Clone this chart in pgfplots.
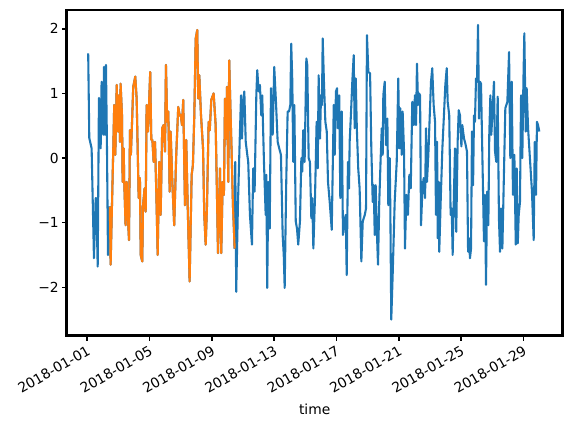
\documentclass[border=0pt]{standalone}
\usepackage{fontspec}
\setmainfont{DejaVu Sans}
\usepackage{pgfplots}
\pgfplotsset{compat=1.18}
\usepackage{pgfplotstable}
\usetikzlibrary{calc}
\definecolor{mplblue}{HTML}{1F77B4}
\definecolor{mplorange}{HTML}{FF7F0E}

% blue series, before the orange stretch
\pgfplotstableread{
d y
0.06 1.62
0.13 0.31
0.28 0.15
0.43 -1.55
0.54 -0.62
0.58 -0.62
0.67 -1.68
0.75 0.93
0.86 0.15
0.92 1.18
1.03 0.36
1.07 1.41
1.14 0.36
1.20 1.44
1.26 0.30
1.33 -1.50
1.45 -0.75
}\blueA

% blue series, after the orange stretch
\pgfplotstableread{
d y
9.46 -1.40
9.50 -0.06
9.56 -2.07
9.67 -0.73
9.78 0.25
9.87 0.97
9.93 0.30
10.01 0.87
10.08 1.03
10.17 0.25
10.27 0.05
10.33 -0.06
10.44 -0.88
10.57 -1.34
10.65 -0.16
10.74 -0.52
10.85 0.97
10.91 1.36
11.00 1.03
11.08 1.13
11.17 0.66
11.23 0.97
11.34 -0.06
11.45 -0.88
11.49 -0.26
11.55 -2.01
11.62 -0.37
11.71 -1.09
11.79 1.08
11.90 0.36
12.00 1.41
12.11 0.87
12.22 0.25
12.32 0.15
12.43 0.05
12.54 -1.19
12.61 -1.50
12.67 -2.01
12.77 -0.37
12.86 0.72
12.95 0.72
13.03 0.82
13.09 1.77
13.16 1.18
13.22 -0.06
13.29 0.82
13.38 -0.98
13.46 -1.09
13.54 -1.34
13.65 -0.98
13.74 0.00
13.80 -0.21
13.86 0.43
13.95 -0.06
14.06 1.54
14.12 1.44
14.21 0.00
14.29 -0.06
14.38 -0.93
14.44 -0.62
14.51 -1.40
14.62 -0.57
14.72 0.56
14.79 -0.16
14.85 1.28
14.94 0.30
15.00 0.97
15.06 0.82
15.11 1.85
15.19 1.18
15.28 0.56
15.37 0.41
15.45 -0.37
15.56 -0.68
15.69 -1.11
15.82 0.82
15.88 0.05
15.96 1.03
16.03 1.08
16.09 0.46
16.17 0.97
16.24 -0.62
16.33 0.72
16.41 -1.19
16.50 -0.98
16.59 -0.88
16.65 -1.81
16.73 -0.06
16.80 -0.47
16.84 0.25
16.93 0.72
17.01 1.18
17.10 1.59
17.16 0.46
17.23 1.23
17.30 0.46
17.39 -0.16
17.48 -0.47
17.59 -1.60
17.68 -0.98
17.81 -0.88
17.89 -0.78
17.95 1.90
18.04 1.33
18.15 1.31
18.23 0.15
18.32 -0.68
18.38 -0.42
18.45 -1.19
18.51 -0.42
18.58 -1.09
18.66 -1.65
18.74 -0.68
18.83 0.00
18.90 0.46
18.96 0.05
19.00 0.97
19.09 1.18
19.17 0.20
19.26 0.61
19.32 -0.73
19.41 0.00
19.45 -0.78
19.51 -2.50
19.60 -1.81
19.73 -0.68
19.86 -0.06
19.96 1.23
20.03 0.15
20.09 0.77
20.18 0.05
20.24 0.72
20.33 0.10
20.39 -1.40
20.48 -0.57
20.58 -0.88
20.67 -0.26
20.76 -0.47
20.86 0.87
20.95 0.51
21.03 0.97
21.10 0.51
21.16 1.46
21.23 0.82
21.29 1.00
21.36 0.97
21.42 -1.04
21.51 -0.47
21.59 -0.31
21.68 -0.62
21.74 0.46
21.80 -0.37
21.89 0.05
21.98 0.66
22.06 1.18
22.14 1.39
22.23 0.82
22.32 0.56
22.38 -0.88
22.45 0.25
22.49 -1.24
22.56 -0.37
22.59 -1.45
22.68 -0.68
22.79 0.15
22.89 0.66
22.98 1.13
23.07 1.39
23.13 0.87
23.23 0.66
23.32 -0.88
23.39 -0.78
23.45 -1.50
23.54 -0.47
23.60 0.15
23.68 -1.14
23.77 0.25
23.84 0.74
23.92 0.66
24.01 0.18
24.07 0.51
24.18 0.30
24.27 0.22
24.37 0.10
24.44 -1.45
24.50 -1.24
24.56 -1.55
24.63 -1.40
24.69 0.41
24.76 -0.42
24.82 0.66
24.88 0.56
24.95 1.23
25.01 1.18
25.08 2.06
25.14 0.61
25.21 1.18
25.27 1.15
25.46 -1.29
25.53 -0.57
25.59 -1.96
25.66 -0.52
25.74 -1.04
25.80 0.36
25.87 0.97
25.93 0.36
26.02 0.77
26.10 1.18
26.17 0.10
26.25 -0.06
26.34 0.95
26.42 -0.93
26.49 -1.45
26.55 -0.78
26.64 -1.40
26.73 -0.37
26.83 0.77
26.96 0.87
27.07 1.64
27.15 0.00
27.24 1.18
27.32 -0.57
27.41 0.05
27.50 -1.34
27.56 -0.16
27.63 -1.32
27.69 -0.88
27.77 -0.68
27.84 0.97
27.92 0.00
27.99 1.18
28.05 1.93
28.14 0.41
28.20 1.08
28.29 0.46
28.54 -0.52
28.65 -1.27
28.72 0.25
28.80 -0.57
28.86 0.56
28.93 0.51
29.01 0.41
}\blueB

% orange stretch (same readings; the blue series runs under it)
\pgfplotstableread{
d y
1.45 -0.75
1.50 -1.65
1.67 0.15
1.73 0.82
1.80 0.05
1.89 1.13
1.97 0.41
2.04 0.97
2.10 0.25
2.14 1.15
2.23 0.66
2.27 -0.37
2.34 0.15
2.37 -0.34
2.46 -1.04
2.53 -0.37
2.61 -0.93
2.68 -1.27
2.74 0.43
2.80 0.05
2.89 0.66
2.95 1.10
3.08 1.26
3.17 0.92
3.30 -0.62
3.38 -0.31
3.43 -1.50
3.53 -1.60
3.58 -0.73
3.68 -0.47
3.75 -0.83
3.81 0.82
3.90 0.41
4.04 1.33
4.11 0.28
4.18 0.28
4.26 -0.06
4.35 0.25
4.43 -0.52
4.52 -1.50
4.62 -0.06
4.71 -0.88
4.81 0.46
4.90 0.51
4.99 0.10
5.05 1.44
5.13 0.56
5.20 0.72
5.29 -0.52
5.35 0.41
5.46 -0.37
5.58 -1.04
5.71 0.05
5.84 0.79
5.93 0.66
6.00 0.67
6.08 0.51
6.16 0.90
6.27 -0.73
6.35 0.28
6.46 -0.88
6.57 -1.91
6.70 -0.26
6.78 -0.11
6.87 0.66
6.96 1.85
7.06 1.98
7.12 0.92
7.19 1.28
7.30 0.66
7.43 0.15
7.51 -0.88
7.60 -1.34
7.68 -0.78
7.79 0.56
7.86 0.43
7.96 0.90
8.11 1.00
8.24 0.51
8.31 -0.37
8.39 -1.47
8.52 -0.16
8.60 -1.47
8.69 -0.37
8.77 -0.57
8.84 0.92
8.90 0.30
8.97 1.10
9.05 -0.37
9.11 1.51
9.20 0.66
9.27 0.05
9.35 -0.73
9.46 -1.40
}\orangedata

\begin{document}
\begin{tikzpicture}
\begin{axis}[
  scale only axis,
  width=357bp, height=234.5bp,
  xmin=-1.32, xmax=30.51,
  ymin=-2.75, ymax=2.29,
  axis line style={line width=2bp},
  tick align=outside,
  tick pos=left,
  major tick length=3.5bp,
  every tick/.style={black, line width=1.1bp},
  xtick={0,4,8,12,16,20,24,28},
  xticklabels={2018-01-01,2018-01-05,2018-01-09,2018-01-13,2018-01-17,2018-01-21,2018-01-25,2018-01-29},
  ytick={-2,-1,0,1,2},
  yticklabels={−2,−1,0,1,2},
  tick label style={font=\fontsize{10}{12}\selectfont},
  xticklabel style={rotate=30, anchor=north east, inner sep=2bp},
  yticklabel style={inner sep=2bp},
  xlabel={time},
  xlabel style={font=\fontsize{10}{12}\selectfont, yshift=-1bp},
  clip=true,
]
\addplot[mplblue, line width=1.5bp, line join=round] table[x=d, y=y] {\blueA};
\addplot[mplblue, line width=1.5bp, line join=round] table[x=d, y=y] {\orangedata};
\addplot[mplblue, line width=1.5bp, line join=round] table[x=d, y=y] {\blueB};
\addplot[mplorange, line width=1.5bp, line join=round] table[x=d, y=y] {\orangedata};
\end{axis}
\pgfresetboundingbox
\path ($(current axis.south west)+(-48bp,-66.5bp)$) rectangle ($(current axis.north east)+(6bp,7.2bp)$);
\end{tikzpicture}
\end{document}
